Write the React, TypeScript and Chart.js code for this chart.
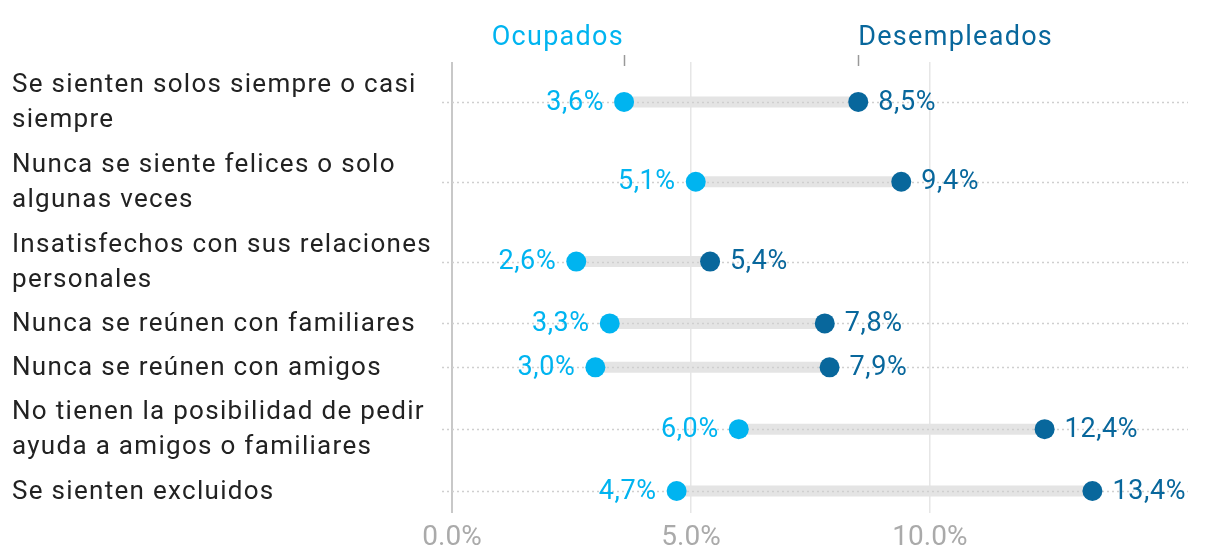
import React, { useEffect, useRef } from 'react';
import { Chart, registerables } from 'chart.js';

Chart.register(...registerables);

// ---- data ----
const categories: string[][] = [
  ['Se sienten solos siempre o casi', 'siempre'],
  ['Nunca se siente felices o solo', 'algunas veces'],
  ['Insatisfechos con sus relaciones', 'personales'],
  ['Nunca se reúnen con familiares'],
  ['Nunca se reúnen con amigos'],
  ['No tienen la posibilidad de pedir', 'ayuda a amigos o familiares'],
  ['Se sienten excluidos'],
];
const ocupados = [3.6, 5.1, 2.6, 3.3, 3.0, 6.0, 4.7];
const desempleados = [8.5, 9.4, 5.4, 7.8, 7.9, 12.4, 13.4];
const seriesNames = ['Ocupados', 'Desempleados'];
const xTicks = [0, 5, 10];
const xMax = 15.4;

// ---- style ----
const FONT = 'Roboto, "Liberation Sans", sans-serif';
const LIGHT = '#00b4f0';
const DARK = '#08679c';
const BAR = '#e4e4e4';
const LINE_H = 36;
const ROW_PAD = 8;

// row layout derived from label line counts
const rowHeights = categories.map((c) => c.length * LINE_H + ROW_PAD);
const rowCenters: number[] = [];
{
  let acc = 0;
  rowHeights.forEach((h) => {
    rowCenters.push(acc + h / 2);
    acc += h;
  });
}
const totalHeight = rowHeights.reduce((a, b) => a + b, 0);

const fmt = (v: number) => v.toFixed(1).replace('.', ',') + '%';

const dumbbellPlugin = {
  id: 'dumbbell',
  beforeDatasetsDraw(chart: any) {
    chart.$dotted = false;
  },
  beforeDatasetDraw(chart: any, args: any) {
    const ds = chart.data.datasets[args.index];
    if (!ds.isDot || chart.$dotted) return;
    chart.$dotted = true;
    const ctx = chart.ctx;
    const { left, right } = chart.chartArea;
    const ys = chart.scales.y;
    ctx.save();
    ctx.strokeStyle = '#cfcfcf';
    ctx.lineWidth = 1.5;
    ctx.setLineDash([2, 3]);
    rowCenters.forEach((c) => {
      const y = Math.round(ys.getPixelForValue(c)) + 0.5;
      ctx.beginPath();
      ctx.moveTo(left - 10, y);
      ctx.lineTo(right, y);
      ctx.stroke();
    });
    ctx.restore();
  },
  afterDatasetsDraw(chart: any) {
    const ctx = chart.ctx;
    const ys = chart.scales.y;
    const xs = chart.scales.x;
    ctx.save();
    // category labels
    ctx.fillStyle = '#222';
    ctx.font = `26px ${FONT}`;
    ctx.letterSpacing = '1.3px';
    ctx.textAlign = 'left';
    ctx.textBaseline = 'middle';
    categories.forEach((lines, i) => {
      const cy = ys.getPixelForValue(rowCenters[i]) + 1;
      lines.forEach((t, j) => {
        ctx.fillText(t, 12, cy + (j - (lines.length - 1) / 2) * 35);
      });
    });
    // value labels
    ctx.font = `27px ${FONT}`;
    ctx.letterSpacing = '0.6px';
    const light = chart.getDatasetMeta(categories.length).data;
    const dark = chart.getDatasetMeta(categories.length + 1).data;
    light.forEach((p: any, i: number) => {
      ctx.fillStyle = LIGHT;
      ctx.textAlign = 'right';
      ctx.fillText(fmt(ocupados[i]), p.x - 20, p.y + 1);
    });
    dark.forEach((p: any, i: number) => {
      ctx.fillStyle = DARK;
      ctx.textAlign = 'left';
      ctx.fillText(fmt(desempleados[i]), p.x + 20, p.y + 1);
    });
    // headers
    const top = chart.chartArea.top;
    const hx1 = xs.getPixelForValue(ocupados[0]);
    const hx2 = xs.getPixelForValue(desempleados[0]);
    ctx.strokeStyle = '#999';
    ctx.lineWidth = 1.5;
    [hx1, hx2].forEach((x) => {
      ctx.beginPath();
      ctx.moveTo(Math.round(x) + 0.5, top - 7);
      ctx.lineTo(Math.round(x) + 0.5, top + 4);
      ctx.stroke();
    });
    ctx.font = `27px ${FONT}`;
    ctx.letterSpacing = '1.3px';
    ctx.textBaseline = 'alphabetic';
    ctx.fillStyle = LIGHT;
    ctx.textAlign = 'right';
    ctx.fillText(seriesNames[0], hx1, top - 17);
    ctx.fillStyle = DARK;
    ctx.textAlign = 'left';
    ctx.fillText(seriesNames[1], hx2, top - 17);
    ctx.restore();
  },
};

export default function App() {
  const ref = useRef<HTMLCanvasElement>(null);
  useEffect(() => {
    document.body.style.margin = '0';
    const connectors = categories.map((_, i) => ({
      type: 'scatter' as const,
      data: [
        { x: ocupados[i], y: rowCenters[i] },
        { x: desempleados[i], y: rowCenters[i] },
      ],
      showLine: true,
      borderColor: BAR,
      borderWidth: 11,
      borderCapStyle: 'butt',
      pointRadius: 0,
      order: 2,
    }));
    const chart = new Chart(ref.current!, {
      type: 'scatter',
      data: {
        datasets: [
          ...connectors,
          {
            label: seriesNames[0],
            data: ocupados.map((v, i) => ({ x: v, y: rowCenters[i] })),
            backgroundColor: LIGHT,
            borderWidth: 0,
            pointRadius: 10,
            order: 1,
            isDot: true,
          } as any,
          {
            label: seriesNames[1],
            data: desempleados.map((v, i) => ({ x: v, y: rowCenters[i] })),
            backgroundColor: DARK,
            borderWidth: 0,
            pointRadius: 10,
            order: 1,
            isDot: true,
          } as any,
        ],
      },
      options: {
        animation: false,
        responsive: false,
        events: [],
        layout: { padding: { left: 452, right: 32, top: 62, bottom: 0 } },
        plugins: { legend: { display: false }, tooltip: { enabled: false } },
        scales: {
          x: {
            type: 'linear',
            min: 0,
            max: xMax,
            afterBuildTicks: (s: any) => {
              s.ticks = xTicks.map((v) => ({ value: v }));
            },
            afterFit: (s: any) => {
              s.height = 47;
            },
            ticks: {
              callback: (v: any) => Number(v).toFixed(1) + '%',
              color: '#aaa',
              font: { family: FONT, size: 28 },
              padding: 8,
              maxRotation: 0,
            },
            grid: {
              drawTicks: false,
              color: (c: any) => (c.tick && c.tick.value === 0 ? '#c8c8c8' : '#e6e6e6'),
              lineWidth: (c: any) => (c.tick && c.tick.value === 0 ? 2 : 1.5),
            },
            border: { display: false },
          },
          y: {
            type: 'linear',
            reverse: true,
            min: 0,
            max: totalHeight,
            display: false,
          },
        },
      },
      plugins: [dumbbellPlugin],
    } as any);
    return () => chart.destroy();
  }, []);
  return (
    <div style={{ width: 1220, height: 560 }}>
      <canvas ref={ref} width={1220} height={560} style={{ display: 'block' }} />
    </div>
  );
}
